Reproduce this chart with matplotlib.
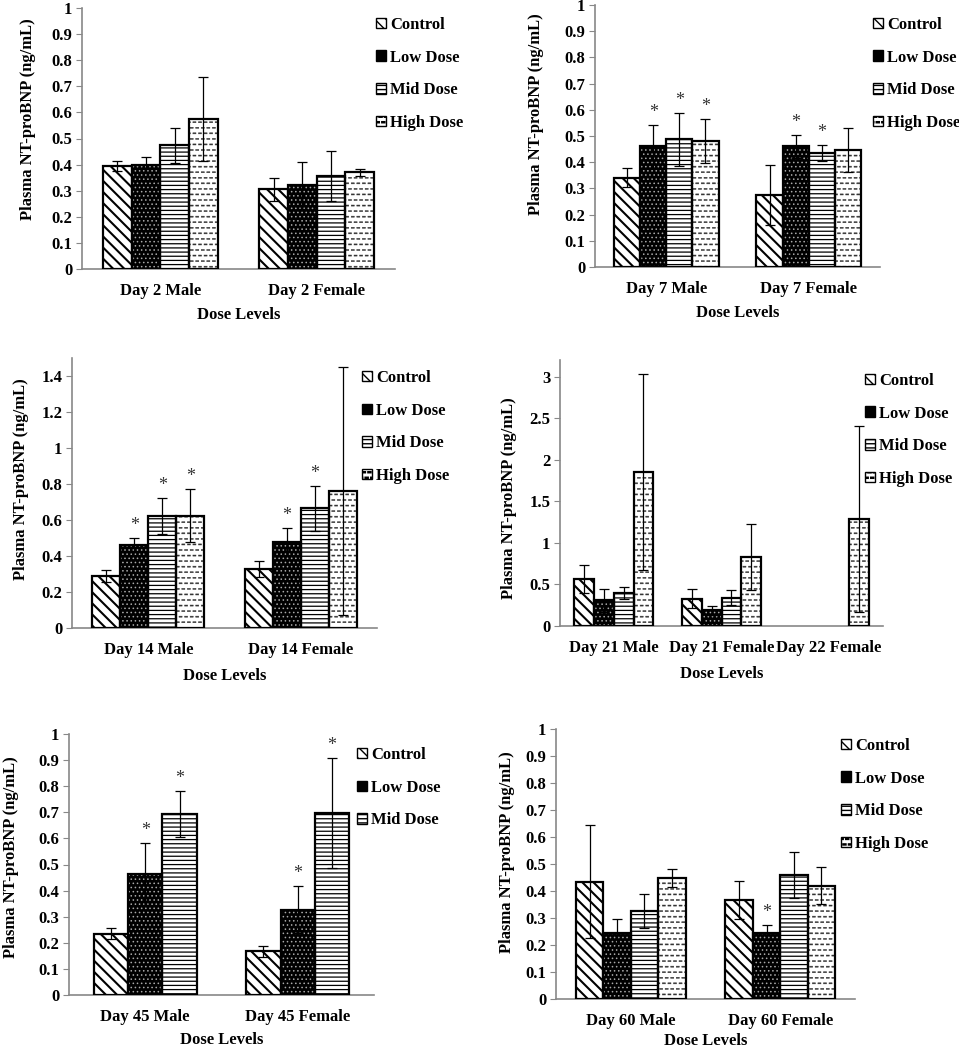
import warnings
import numpy as np
import matplotlib
matplotlib.use('Agg')
from matplotlib import pyplot as plt
from matplotlib import hatch as mhatch

warnings.filterwarnings('ignore')

plt.rcParams['font.family'] = 'Liberation Serif'
plt.rcParams['font.weight'] = 'bold'


# short staggered dashes for the high dose fill ('_' in a hatch string)
class Dashes(mhatch.Shapes):
    filled = True
    size = 1.0

    def __init__(self, hatch, density):
        self.num_rows = hatch.count('_') * density
        self.shape_vertices = np.array([[-0.28, -0.1], [0.28, -0.1], [0.28, 0.1],
                                        [-0.28, 0.1], [-0.28, -0.1]])
        self.shape_codes = np.array([1, 2, 2, 2, 79], dtype=np.uint8)
        super().__init__(hatch, density)


mhatch._hatch_types.append(Dashes)

series = ['Control', 'Low Dose', 'Mid Dose', 'High Dose']

# day 2
d2_cats = ['Day 2 Male', 'Day 2 Female']
d2_mean = [[0.395, 0.305], [0.400, 0.320], [0.475, 0.357], [0.575, 0.370]]
d2_err = [[0.020, 0.043], [0.028, 0.090], [0.067, 0.095], [0.162, 0.015]]
d2_star = [[0, 0], [0, 0], [0, 0], [0, 0]]

# day 7
d7_cats = ['Day 7 Male', 'Day 7 Female']
d7_mean = [[0.340, 0.275], [0.460, 0.460], [0.487, 0.435], [0.480, 0.447]]
d7_err = [[0.036, 0.115], [0.083, 0.043], [0.100, 0.030], [0.083, 0.083]]
d7_star = [[0, 0], [1, 1], [1, 1], [1, 0]]

# day 14
d14_cats = ['Day 14 Male', 'Day 14 Female']
d14_mean = [[0.290, 0.330], [0.460, 0.480], [0.625, 0.665], [0.625, 0.760]]
d14_err = [[0.035, 0.045], [0.040, 0.073], [0.100, 0.125], [0.145, 0.690]]
d14_star = [[0, 0], [1, 1], [1, 1], [1, 0]]

# day 21 / 22
d21_cats = ['Day 21 Male', 'Day 21 Female', 'Day 22 Female']
d21_mean = [[0.565, 0.330, np.nan], [0.310, 0.190, np.nan],
            [0.400, 0.340, np.nan], [1.850, 0.830, 1.290]]
d21_err = [[0.165, 0.110, np.nan], [0.140, 0.055, np.nan],
           [0.070, 0.090, np.nan], [1.180, 0.400, 1.120]]
d21_star = [[0, 0, 0], [0, 0, 0], [0, 0, 0], [0, 0, 0]]

# day 45 (no high dose)
d45_cats = ['Day 45 Male', 'Day 45 Female']
d45_mean = [[0.235, 0.167], [0.463, 0.327], [0.693, 0.698]]
d45_err = [[0.022, 0.021], [0.120, 0.090], [0.087, 0.210]]
d45_star = [[0, 0], [1, 1], [1, 1]]

# day 60
d60_cats = ['Day 60 Male', 'Day 60 Female']
d60_mean = [[0.435, 0.367], [0.245, 0.245], [0.325, 0.458], [0.447, 0.420]]
d60_err = [[0.210, 0.070], [0.052, 0.028], [0.063, 0.085], [0.033, 0.068]]
d60_star = [[0, 0], [0, 1], [0, 0], [0, 0]]

W, H = 959, 1050
fig = plt.figure(figsize=(W / 100, H / 100), dpi=100)

styles = [
    dict(facecolor='white', edgecolor='black', hatch='\\\\\\'),
    dict(facecolor='black', edgecolor='#a8a8a8', hatch='....'),
    dict(facecolor='white', edgecolor='black', hatch='----'),
    dict(facecolor='white', edgecolor='#333333', hatch='___'),
]
hatch_widths = [1.5, 0.6, 0.9, 0.3]


def panel(box, cats, means, errs, stars, ymax, yticks, ylabels, leg_xy, ylab_xy, xpad):
    x0, x1, ytop, ybot = box
    ax = fig.add_axes([x0 / W, 1 - ybot / H, (x1 - x0) / W, (ybot - ytop) / H])
    n = len(means)
    w = 1 / (n + 1.45)
    pos = np.arange(len(cats)) + 0.5
    for j in range(n):
        xs = pos + (j - (n - 1) / 2) * w
        m = np.array(means[j], dtype=float)
        e = np.array(errs[j], dtype=float)
        with plt.rc_context({'hatch.linewidth': hatch_widths[j]}):
            bars = ax.bar(xs, m, w, linewidth=0, label=series[j], zorder=2, **styles[j])
        for p in bars:
            if hasattr(p, 'set_hatch_linewidth'):
                p.set_hatch_linewidth(hatch_widths[j])
        ax.bar(xs, m, w, facecolor='none', edgecolor='black', linewidth=1.6, zorder=3)
        ax.errorbar(xs, m, yerr=e, fmt='none', ecolor='black', elinewidth=0.9,
                    capsize=3.5, capthick=0.9, zorder=4)
        for k in range(len(cats)):
            if stars[j][k]:
                ax.annotate('*', (xs[k], m[k] + e[k]), xytext=(0, 9),
                            textcoords='offset points', ha='center', va='center',
                            fontsize=13, fontweight='normal', color='#333333')
    ax.set_xlim(0, len(cats))
    ax.set_ylim(0, ymax)
    ax.set_yticks(yticks)
    ax.set_yticklabels(ylabels, fontsize=12, fontweight='bold')
    ax.set_xticks(pos)
    ax.set_xticklabels(cats, fontsize=12, fontweight='bold')
    ax.tick_params(axis='x', length=0, pad=10)
    ax.tick_params(axis='y', length=4, color='#888888', pad=3)
    for s in ['top', 'right']:
        ax.spines[s].set_visible(False)
    for s in ['left', 'bottom']:
        ax.spines[s].set_color('#888888')
        ax.spines[s].set_linewidth(1.2)
    ax.set_ylabel('Plasma NT-proBNP (ng/mL)', fontsize=12, fontweight='bold')
    lx_c, ly_c = ylab_xy
    ax.yaxis.set_label_coords((lx_c + 9 - x0) / (x1 - x0), (ybot - ly_c) / (ybot - ytop))
    ax.set_xlabel('Dose Levels', fontsize=12, fontweight='bold', labelpad=xpad)
    lx, ly = leg_xy
    leg = ax.legend(loc='upper left', bbox_to_anchor=(lx / W, 1 - (ly - 6) / H),
                    bbox_transform=fig.transFigure, frameon=False,
                    prop=dict(size=12, weight='bold'),
                    handlelength=0.6, handleheight=0.6, handletextpad=0.25,
                    labelspacing=1.0, borderpad=0, borderaxespad=0)
    for h in leg.get_patches():
        h.set_edgecolor('black')
        h.set_linewidth(1.0)
    return ax


t1 = [0, 0.1, 0.2, 0.3, 0.4, 0.5, 0.6, 0.7, 0.8, 0.9, 1]
l1 = ['0', '0.1', '0.2', '0.3', '0.4', '0.5', '0.6', '0.7', '0.8', '0.9', '1']

panel((82, 395, 8, 269), d2_cats, d2_mean, d2_err, d2_star, 1, t1, l1,
      (376, 23), (27, 119), 6)
panel((595, 880, 5, 267), d7_cats, d7_mean, d7_err, d7_star, 1, t1, l1,
      (873, 23), (535, 114), 6)
panel((72, 377, 358, 628), d14_cats, d14_mean, d14_err, d14_star, 1.5,
      [0, 0.2, 0.4, 0.6, 0.8, 1, 1.2, 1.4],
      ['0', '0.2', '0.4', '0.6', '0.8', '1', '1.2', '1.4'],
      (362, 376), (20, 479), 7)
panel((560, 883, 360, 626), d21_cats, d21_mean, d21_err, d21_star, 3.2,
      [0, 0.5, 1, 1.5, 2, 2.5, 3],
      ['0', '0.5', '1', '1.5', '2', '2.5', '3'],
      (865, 379), (508, 498), 7)
panel((69, 374, 734, 995), d45_cats, d45_mean, d45_err, d45_star, 1, t1, l1,
      (357, 753), (10, 857), 5)
panel((556, 855, 729, 999), d60_cats, d60_mean, d60_err, d60_star, 1, t1, l1,
      (841, 744), (506, 852), 3)

fig.savefig('out.png', dpi=100)
